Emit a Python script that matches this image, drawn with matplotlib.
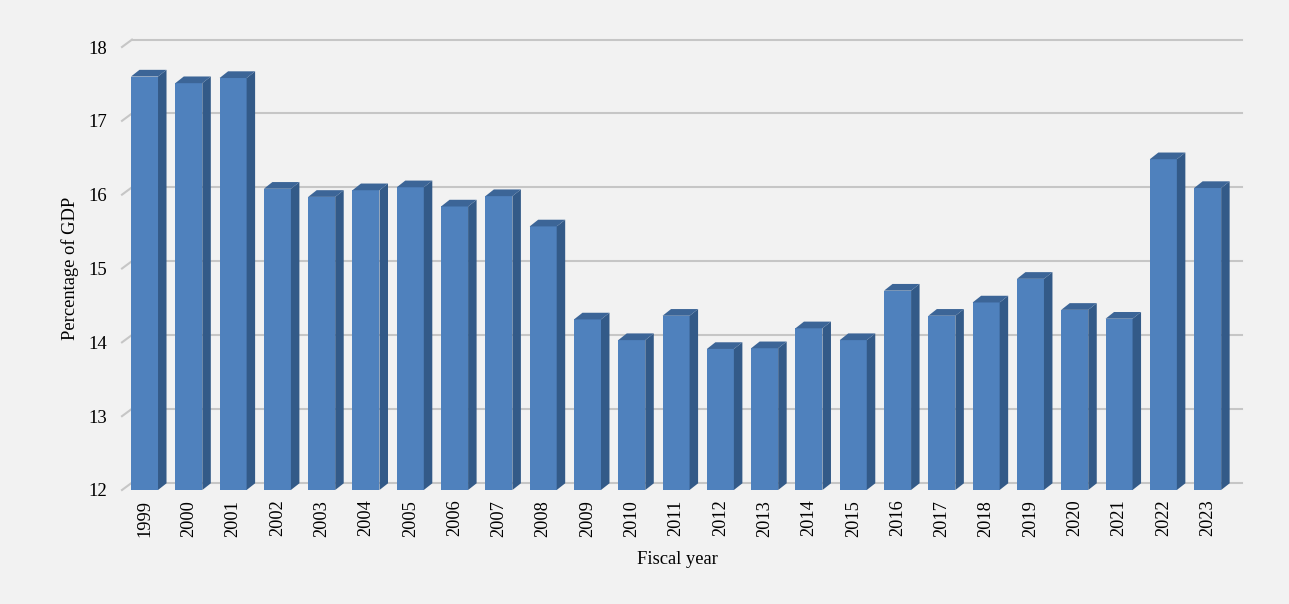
import numpy as np
import matplotlib
matplotlib.use('Agg')
import matplotlib.pyplot as plt
from matplotlib.patches import Polygon

years = [str(y) for y in range(1999, 2024)]
pct_gdp = [17.60, 17.51, 17.58, 16.08, 15.97, 16.06, 16.10, 15.84, 15.98, 15.57,
           14.31, 14.03, 14.36, 13.91, 13.92, 14.19, 14.03, 14.70, 14.36, 14.54,
           14.86, 14.44, 14.32, 16.48, 16.09]
yticks = [12, 13, 14, 15, 16, 17, 18]

plt.rcParams['font.family'] = ['Liberation Serif', 'DejaVu Serif']

bg = '#f2f2f2'
front_c = '#4f81bd'
side_c = '#335a88'
top_c = '#3c6597'
grid_c = '#c6c6c6'

W, H = 1289, 604
fig = plt.figure(figsize=(W / 100, H / 100), dpi=100, facecolor=bg)
# front plane of the plot: x 122..1232 px, y 47..490 px (from top)
ax = fig.add_axes([122 / W, (H - 490) / H, 1110 / W, 443 / H])
ax.set_facecolor('none')
ax.set_xlim(-0.508, 24.55)
ax.set_ylim(12, 18)
for s in ax.spines.values():
    s.set_visible(False)

# pixel -> data conversion for the fake depth
p0 = ax.transData.transform((0, 12))
p1 = ax.transData.transform((1, 13))
px_x = p1[0] - p0[0]
px_y = p1[1] - p0[1]

wall_dx, wall_dy = 10 / px_x, 7.4 / px_y
bar_dx, bar_dy = 8.5 / px_x, 6.7 / px_y

x0, x1 = ax.get_xlim()
for v in yticks:
    ax.plot([x0 + wall_dx, x1 + wall_dx], [v + wall_dy, v + wall_dy],
            color=grid_c, lw=1.5, zorder=1, clip_on=False)
    ax.plot([x0, x0 + wall_dx], [v, v + wall_dy],
            color=grid_c, lw=1.5, zorder=1, clip_on=False)

x = np.arange(len(years))
bw = 0.61
ax.bar(x, np.array(pct_gdp) - 12, bottom=12, width=bw, color=front_c,
       edgecolor='none', zorder=3)
for xi, v in zip(x, pct_gdp):
    r = xi + bw / 2
    l = xi - bw / 2
    side = Polygon([(r, 12), (r + bar_dx, 12 + bar_dy), (r + bar_dx, v + bar_dy), (r, v)],
                   closed=True, facecolor=side_c, edgecolor='none', zorder=3)
    top = Polygon([(l, v), (r, v), (r + bar_dx, v + bar_dy), (l + bar_dx, v + bar_dy)],
                  closed=True, facecolor=top_c, edgecolor='none', zorder=3)
    ax.add_patch(side)
    ax.add_patch(top)

ax.set_yticks(yticks)
ax.set_yticklabels([str(t) for t in yticks], fontsize=13.5)
ax.set_xticks(x)
ax.set_xticklabels(years, rotation=90, fontsize=13.2)
ax.tick_params(axis='y', length=0, pad=11)
ax.tick_params(axis='x', length=0, pad=7)

ax.set_ylabel('Percentage of GDP', fontsize=13.3, va='center')
ax.yaxis.set_label_coords(-52 / 1110, 0.5)
ax.set_xlabel('Fiscal year', fontsize=13.3, va='center')
ax.xaxis.set_label_coords(0.5, -70 / 443)

fig.savefig('out.png', dpi=100, facecolor=bg)
